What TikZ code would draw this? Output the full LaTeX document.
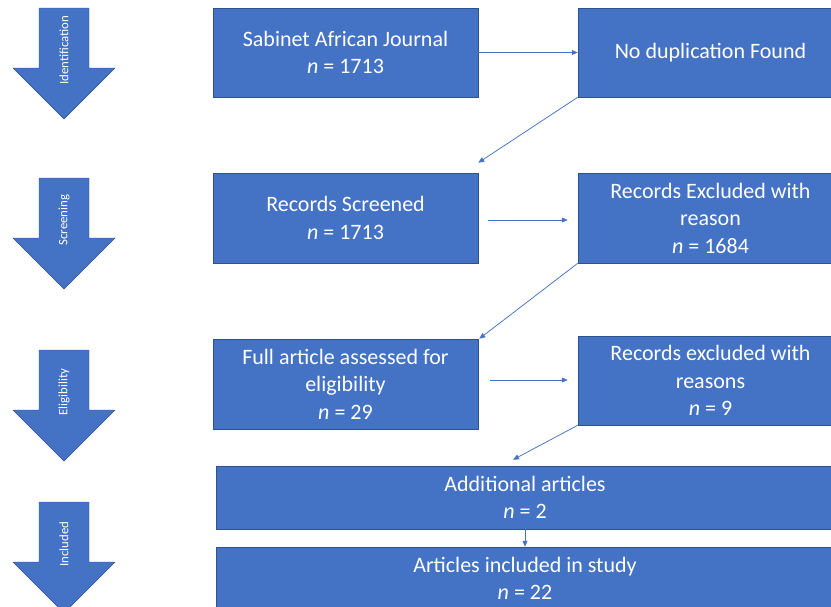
\documentclass[tikz,border=0pt]{standalone}
\usepackage{xcolor}
\usepackage{tikz}
\usepackage{fontspec}
\setmainfont{Carlito}
\usetikzlibrary{arrows.meta}

\begin{document}
\begin{tikzpicture}[x=1pt,y=-1pt,
  box/.style={rectangle,draw=edgeColor,line width=0.5pt,fill=fillColor,text=white,
    align=center,inner sep=0pt,font=\fontsize{22}{27.5}\selectfont},
  stagetext/.style={text=white,rotate=90,inner sep=0pt,font=\fontsize{12.8}{14}\selectfont},
  link/.style={draw=fillColor,line width=0.75pt,-{Triangle[length=6pt,width=5pt]}}]
\definecolor{fillColor}{RGB}{68,114,196}
\definecolor{edgeColor}{RGB}{47,82,143}
\clip (0,0) rectangle (831,606);

% stage arrows
\foreach \top/\lbl [count=\i] in {8/Identification,178/Screening,350/Eligibility,502/Included}{
  \path[fill=fillColor,draw=edgeColor,line width=0.4pt] (39,\top) -- (89,\top) -- (89,\top+60)
    -- (115,\top+60) -- (64,\top+111) -- (13,\top+60) -- (39,\top+60) -- cycle;
  \node[stagetext] (stage\i) at (64,\top+42) {\lbl};
}

% boxes
\node[box,minimum width=265pt,minimum height=89pt] (sabinet) at (345.5, 52.5) {Sabinet African Journal\\\textit{n} = 1713};
\node[box,minimum width=265pt,minimum height=89pt] (nodup) at (710.5, 52.5) {No duplication Found};
\node[box,minimum width=265pt,minimum height=90pt] (screened) at (345.5,218) {Records Screened\\\textit{n} = 1713};
\node[box,minimum width=265pt,minimum height=90pt] (excluded) at (710.5,218) {Records Excluded with\\reason\\\textit{n} = 1684};
\node[box,minimum width=265pt,minimum height=90pt] (fulltext) at (345.5,384) {Full article assessed for\\eligibility\\\textit{n} = 29};
\node[box,minimum width=265pt,minimum height=89pt] (reasons) at (710.5,380.5) {Records excluded with\\reasons\\\textit{n} = 9};
\node[box,minimum width=618pt,minimum height=63pt] (additional) at (525,497.5) {Additional articles\\\textit{n} = 2};
\node[box,minimum width=618pt,minimum height=63pt] (included) at (525,578.5) {Articles included in study\\\textit{n} = 22};

% connectors
\path[link] (sabinet.east) -- (nodup.west);
\path[link] (nodup.south west) -- ([yshift=10pt]screened.north east);
\path[link] ([xshift=10pt,yshift=-2pt]screened.east) -- ([xshift=-10pt,yshift=-2pt]excluded.west);
\path[link] (excluded.south west) -- ([xshift=1pt]fulltext.north east);
\path[link] ([xshift=12pt,yshift=4pt]fulltext.east) -- ([xshift=-10pt,yshift=0.5pt]reasons.west);
\path[link] (reasons.south west) -- ([xshift=-12pt,yshift=6pt]additional.north);
\path[link] (additional.south) -- (included.north);
\end{tikzpicture}
\end{document}
